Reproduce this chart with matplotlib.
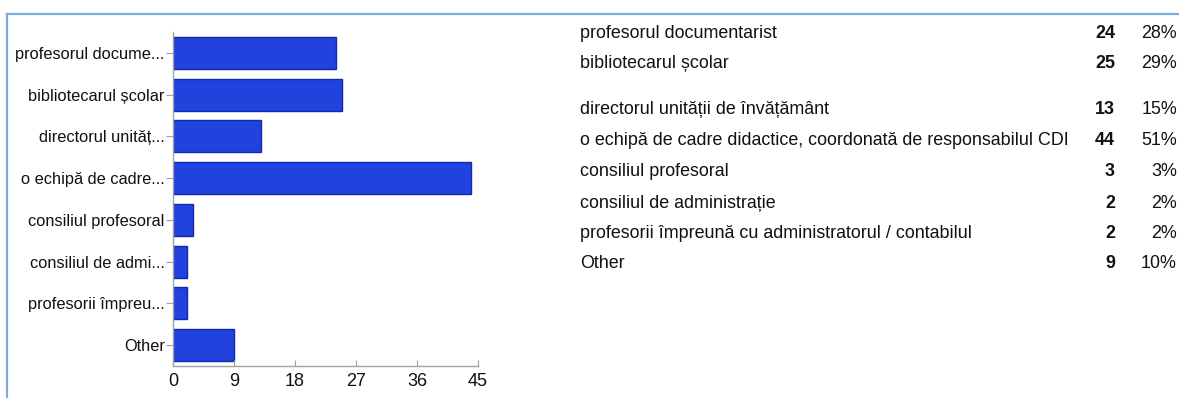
import matplotlib
matplotlib.use("Agg")
import matplotlib.pyplot as plt
from matplotlib.lines import Line2D

plt.rcParams['font.family'] = ['Liberation Sans', 'DejaVu Sans']

# Survey answers
short_labels = ["profesorul docume...", "bibliotecarul școlar", "directorul unităț...",
                "o echipă de cadre...", "consiliul profesoral", "consiliul de admi...",
                "profesorii împreu...", "Other"]
full_labels = ["profesorul documentarist", "bibliotecarul școlar",
               "directorul unității de învățământ",
               "o echipă de cadre didactice, coordonată de responsabilul CDI",
               "consiliul profesoral", "consiliul de administrație",
               "profesorii împreună cu administratorul / contabilul", "Other"]
counts = [24, 25, 13, 44, 3, 2, 2, 9]
percents = ["28%", "29%", "15%", "51%", "3%", "2%", "2%", "10%"]
x_ticks = [0, 9, 18, 27, 36, 45]

W, H = 1179, 398
fig = plt.figure(figsize=(W / 100, H / 100), dpi=100)

def fx(px):
    return px / W

def fy(py):
    return 1 - py / H

# Light blue frame around the panel
frame_color = "#7aaee0"
fig.add_artist(Line2D([fx(7.5), 1.0], [fy(13.5), fy(13.5)], color=frame_color, lw=1.6))
fig.add_artist(Line2D([fx(7.5), fx(7.5)], [fy(13.5), 0.0], color=frame_color, lw=1.6))

ax = fig.add_axes([fx(173), fy(366), fx(478) - fx(173), fy(32) - fy(366)])
ypos = list(range(len(counts)))
ax.barh(ypos, counts, height=0.77, color="#2142dc", edgecolor="#1228b0", linewidth=1.0)
ax.set_ylim(len(counts) - 0.5, -0.5)
ax.set_xlim(0, 45)
ax.set_xticks(x_ticks)
ax.set_xticklabels([str(t) for t in x_ticks])
ax.set_yticks(ypos)
ax.set_yticklabels(short_labels)
for side in ("top", "right"):
    ax.spines[side].set_visible(False)
for side in ("left", "bottom"):
    ax.spines[side].set_color("#a0a0a0")
    ax.spines[side].set_linewidth(1.0)
ax.tick_params(axis="y", direction="out", length=5, color="#a0a0a0", labelsize=11.8, pad=1,
               labelcolor="#111111")
ax.tick_params(axis="x", direction="in", length=4, color="#a0a0a0", labelsize=13, pad=5,
               labelcolor="#111111")

# Summary table on the right
row_y = [33, 63, 110, 141, 172, 203, 233, 263]
for lab, c, p, y in zip(full_labels, counts, percents, row_y):
    fig.text(fx(580), fy(y), lab, fontsize=12.9, va="center", ha="left", color="#111111")
    fig.text(fx(1115), fy(y), str(c), fontsize=12.9, va="center", ha="right",
             fontweight="bold", color="#111111")
    fig.text(fx(1177), fy(y), p, fontsize=12.9, va="center", ha="right", color="#111111")

fig.savefig("out.png", dpi=100)
